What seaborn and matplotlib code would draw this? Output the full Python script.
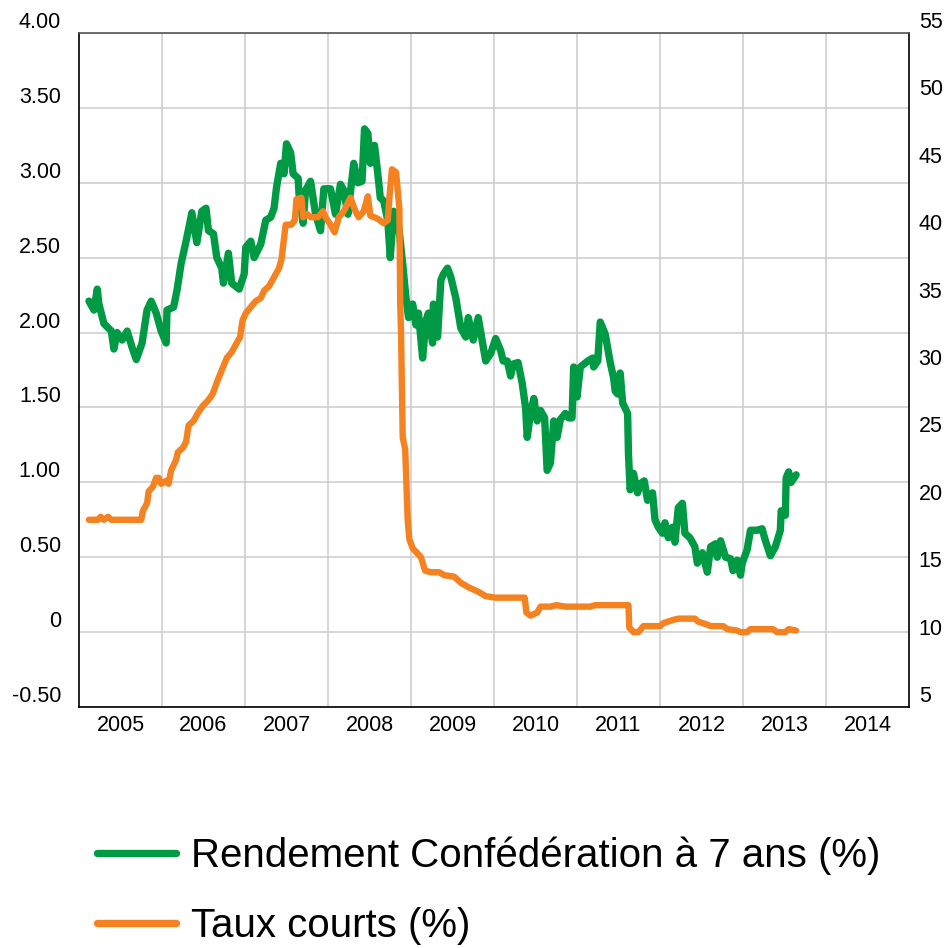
import numpy as np
import pandas as pd
import matplotlib
matplotlib.use('Agg')
import matplotlib.pyplot as plt
from matplotlib.lines import Line2D
import seaborn as sns

sns.set_theme(style='white')
plt.rcParams['font.family'] = ['Liberation Sans', 'DejaVu Sans']
plt.rcParams['text.color'] = 'black'

## data (decimal years, %)
yield_years = [2005.12, 2005.18, 2005.22, 2005.24, 2005.30, 2005.39, 2005.42, 2005.46, 2005.52, 2005.58,
               2005.64, 2005.69, 2005.76, 2005.82, 2005.87, 2005.93, 2005.99, 2006.05, 2006.06, 2006.14,
               2006.18, 2006.23, 2006.29, 2006.36, 2006.42, 2006.48, 2006.53, 2006.56, 2006.62, 2006.66,
               2006.72, 2006.74, 2006.80, 2006.84, 2006.93, 2006.99, 2007.01, 2007.07, 2007.11, 2007.19,
               2007.25, 2007.31, 2007.35, 2007.38, 2007.43, 2007.47, 2007.50, 2007.55, 2007.58, 2007.64,
               2007.65, 2007.70, 2007.73, 2007.79, 2007.85, 2007.91, 2007.95, 2008.03, 2008.09, 2008.15,
               2008.19, 2008.24, 2008.31, 2008.36, 2008.41, 2008.44, 2008.48, 2008.51, 2008.56, 2008.60,
               2008.63, 2008.67, 2008.72, 2008.75, 2008.79, 2008.84, 2008.90, 2008.94, 2008.97, 2009.02,
               2009.06, 2009.09, 2009.14, 2009.18, 2009.21, 2009.26, 2009.27, 2009.32, 2009.36, 2009.39,
               2009.44, 2009.48, 2009.54, 2009.60, 2009.66, 2009.69, 2009.75, 2009.81, 2009.90, 2009.96,
               2010.02, 2010.08, 2010.11, 2010.16, 2010.20, 2010.23, 2010.29, 2010.34, 2010.38, 2010.40,
               2010.44, 2010.48, 2010.52, 2010.56, 2010.61, 2010.64, 2010.68, 2010.72, 2010.76, 2010.80,
               2010.86, 2010.90, 2010.94, 2010.96, 2011.00, 2011.04, 2011.13, 2011.19, 2011.20, 2011.25,
               2011.28, 2011.34, 2011.40, 2011.44, 2011.46, 2011.49, 2011.52, 2011.55, 2011.61, 2011.62,
               2011.64, 2011.68, 2011.73, 2011.76, 2011.81, 2011.85, 2011.91, 2011.94, 2011.98, 2012.03,
               2012.06, 2012.10, 2012.15, 2012.18, 2012.22, 2012.27, 2012.30, 2012.36, 2012.42, 2012.45,
               2012.51, 2012.57, 2012.61, 2012.67, 2012.69, 2012.73, 2012.79, 2012.85, 2012.88, 2012.93,
               2012.97, 2012.99, 2013.05, 2013.09, 2013.17, 2013.23, 2013.27, 2013.33, 2013.39, 2013.45,
               2013.46, 2013.51, 2013.52, 2013.55, 2013.58, 2013.64]
yield_7y = [2.21, 2.15, 2.29, 2.19, 2.06, 2.01, 1.89, 2.00, 1.95, 2.01,
            1.90, 1.82, 1.93, 2.15, 2.21, 2.13, 2.01, 1.93, 2.15, 2.17,
            2.28, 2.46, 2.61, 2.80, 2.60, 2.81, 2.83, 2.68, 2.66, 2.50,
            2.43, 2.33, 2.53, 2.33, 2.29, 2.39, 2.57, 2.61, 2.50, 2.59,
            2.75, 2.77, 2.83, 2.97, 3.13, 3.06, 3.26, 3.20, 3.06, 3.03,
            2.93, 2.73, 2.95, 3.01, 2.79, 2.68, 2.96, 2.96, 2.79, 2.99,
            2.95, 2.79, 3.13, 3.00, 3.01, 3.36, 3.33, 3.13, 3.25, 3.06,
            2.90, 2.88, 2.75, 2.50, 2.81, 2.77, 2.46, 2.23, 2.10, 2.19,
            2.05, 2.13, 1.83, 2.08, 2.13, 1.93, 2.19, 1.97, 2.35, 2.39,
            2.43, 2.37, 2.23, 2.03, 1.97, 2.10, 1.95, 2.10, 1.81, 1.86,
            1.96, 1.88, 1.81, 1.81, 1.71, 1.79, 1.80, 1.66, 1.50, 1.30,
            1.46, 1.56, 1.41, 1.48, 1.43, 1.08, 1.13, 1.41, 1.30, 1.42,
            1.46, 1.43, 1.43, 1.77, 1.57, 1.77, 1.81, 1.83, 1.77, 1.81,
            2.07, 1.99, 1.80, 1.70, 1.61, 1.59, 1.73, 1.53, 1.46, 1.19,
            0.95, 1.06, 0.93, 0.99, 1.01, 0.88, 0.93, 0.75, 0.70, 0.66,
            0.73, 0.63, 0.70, 0.60, 0.83, 0.86, 0.66, 0.63, 0.57, 0.46,
            0.53, 0.40, 0.57, 0.59, 0.50, 0.61, 0.50, 0.49, 0.41, 0.48,
            0.38, 0.46, 0.55, 0.68, 0.68, 0.69, 0.61, 0.51, 0.57, 0.68,
            0.81, 0.78, 1.03, 1.07, 1.00, 1.05]

short_years = [2005.12, 2005.23, 2005.26, 2005.30, 2005.35, 2005.39, 2005.75, 2005.77, 2005.82, 2005.84,
               2005.89, 2005.93, 2005.96, 2005.99, 2006.05, 2006.08, 2006.11, 2006.17, 2006.19, 2006.25,
               2006.29, 2006.32, 2006.38, 2006.43, 2006.49, 2006.56, 2006.61, 2006.67, 2006.78, 2006.84,
               2006.90, 2006.94, 2006.97, 2007.01, 2007.07, 2007.13, 2007.19, 2007.23, 2007.29, 2007.35,
               2007.41, 2007.44, 2007.49, 2007.56, 2007.60, 2007.62, 2007.68, 2007.70, 2007.75, 2007.79,
               2007.88, 2007.94, 2007.97, 2008.03, 2008.08, 2008.13, 2008.19, 2008.27, 2008.33, 2008.37,
               2008.43, 2008.48, 2008.51, 2008.60, 2008.67, 2008.72, 2008.74, 2008.77, 2008.82, 2008.86,
               2008.87, 2008.88, 2008.90, 2008.93, 2008.96, 2008.98, 2009.02, 2009.07, 2009.12, 2009.17,
               2009.24, 2009.34, 2009.40, 2009.52, 2009.60, 2009.69, 2009.81, 2009.90, 2010.02, 2010.26,
               2010.37, 2010.39, 2010.44, 2010.52, 2010.56, 2010.68, 2010.75, 2010.86, 2011.16, 2011.22,
               2011.62, 2011.63, 2011.68, 2011.74, 2011.80, 2012.00, 2012.04, 2012.15, 2012.22, 2012.42,
               2012.46, 2012.57, 2012.61, 2012.76, 2012.81, 2012.93, 2012.97, 2013.05, 2013.09, 2013.36,
               2013.41, 2013.51, 2013.55, 2013.64]
short_rate = [0.75, 0.75, 0.77, 0.75, 0.77, 0.75, 0.75, 0.81, 0.86, 0.94,
              0.97, 1.03, 1.03, 0.99, 1.01, 0.99, 1.08, 1.15, 1.20, 1.23,
              1.27, 1.38, 1.41, 1.46, 1.51, 1.55, 1.59, 1.68, 1.83, 1.87,
              1.93, 1.97, 2.08, 2.13, 2.17, 2.21, 2.23, 2.28, 2.31, 2.37,
              2.43, 2.49, 2.72, 2.72, 2.75, 2.89, 2.90, 2.77, 2.79, 2.77,
              2.77, 2.81, 2.77, 2.72, 2.67, 2.77, 2.81, 2.90, 2.81, 2.77,
              2.81, 2.91, 2.78, 2.76, 2.73, 2.75, 2.90, 3.09, 3.07, 2.83,
              2.20, 2.00, 1.30, 1.22, 0.75, 0.62, 0.56, 0.53, 0.50, 0.41,
              0.40, 0.40, 0.38, 0.37, 0.33, 0.30, 0.27, 0.24, 0.23, 0.23,
              0.23, 0.13, 0.11, 0.13, 0.17, 0.17, 0.18, 0.17, 0.17, 0.18,
              0.18, 0.03, 0.00, 0.00, 0.04, 0.04, 0.06, 0.08, 0.09, 0.09,
              0.07, 0.05, 0.04, 0.04, 0.02, 0.01, 0.00, 0.00, 0.02, 0.02,
              0.00, 0.00, 0.02, 0.01]

left_ticks = [4.0, 3.5, 3.0, 2.5, 2.0, 1.5, 1.0, 0.5, 0.0, -0.5]
left_labels = ['4.00', '3.50', '3.00', '2.50', '2.00', '1.50', '1.00', '0.50', '0', '-0.50']
right_ticks = [55, 50, 45, 40, 35, 30, 25, 20, 15, 10, 5]
year_labels = ['2005', '2006', '2007', '2008', '2009', '2010', '2011', '2012', '2013', '2014']

label_yield = 'Rendement Confédération à 7 ans (%)'
label_short = 'Taux courts (%)'
green = '#009A44'
orange = '#F58220'

df_y = pd.DataFrame({'year': yield_years, 'val': yield_7y})
df_s = pd.DataFrame({'year': short_years, 'val': short_rate})

fig = plt.figure(figsize=(9.47, 9.48), dpi=100)
ax = fig.add_axes([79/947, 1-707/948, 830/947, 674/948])

sns.lineplot(data=df_y, x='year', y='val', ax=ax, color=green, linewidth=5.3,
             estimator=None, sort=False, solid_capstyle='round', solid_joinstyle='round')
sns.lineplot(data=df_s, x='year', y='val', ax=ax, color=orange, linewidth=4.6,
             estimator=None, sort=False, solid_capstyle='round', solid_joinstyle='round')

ax.set_xlim(2005, 2015)
ax.set_ylim(-0.5, 4.0)
ax.set_xlabel('')
ax.set_ylabel('')

# gridlines at year starts, labels in the middle of the year
ax.set_xticks(np.arange(2006, 2015))
ax.set_xticklabels([])
ax.set_xticks(np.arange(2005, 2015) + 0.5, minor=True)
ax.set_xticklabels(year_labels, minor=True)
ax.set_yticks(left_ticks)
ax.set_yticklabels(left_labels)
for lab in ax.get_yticklabels():
    lab.set_va('bottom')

ax.tick_params(axis='x', which='both', length=0, pad=6, labelsize=15.5, labelcolor='black')
ax.tick_params(axis='y', length=0, pad=13, labelsize=15.5, labelcolor='black')
ax.grid(True, which='major', color='#CCCCCC', linewidth=1.1)
ax.set_axisbelow(True)

for side in ['left', 'bottom', 'right']:
    ax.spines[side].set_color('black')
    ax.spines[side].set_linewidth(1.2)
ax.spines['top'].set_color('#555555')
ax.spines['top'].set_linewidth(1.2)

ax2 = ax.twinx()
ax2.set_ylim(5, 55)
ax2.set_yticks(right_ticks)
ax2.set_yticklabels([str(t) for t in right_ticks])
for lab in ax2.get_yticklabels():
    lab.set_va('bottom')
ax2.tick_params(axis='y', length=0, pad=7, labelsize=15.5, labelcolor='black')
ax2.grid(False)
for side in ax2.spines:
    ax2.spines[side].set_visible(False)

handles = [Line2D([], [], color=green, linewidth=5.3),
           Line2D([], [], color=orange, linewidth=5.3)]
leg = fig.legend(handles, [label_yield, label_short], loc='upper left',
                 bbox_to_anchor=(97/947, 0.118), frameon=False, fontsize=29,
                 handlelength=1.97, handletextpad=0.37, labelspacing=0.8, borderpad=0,
                 borderaxespad=0)
for t in leg.get_texts():
    t.set_color('black')

fig.savefig('out.png', dpi=100)
